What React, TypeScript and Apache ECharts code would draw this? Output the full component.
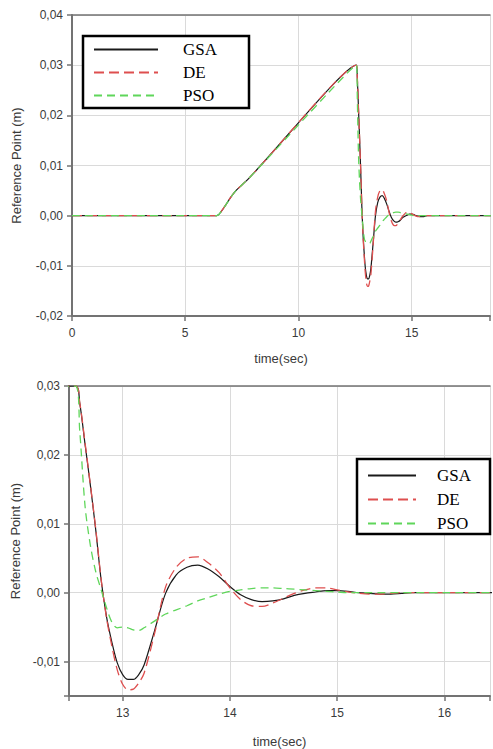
import React, { useEffect, useRef } from 'react';
import * as echarts from 'echarts';

// time (sec)
const time = [
  0, 6.4, 6.6, 6.8, 7.0, 7.2, 7.4, 7.8,
  12.56, 12.6, 12.65, 12.7, 12.75, 12.8, 12.85, 12.9, 12.95, 13.0, 13.05, 13.1, 13.15, 13.2,
  13.3, 13.4, 13.5, 13.6, 13.7, 13.8, 13.9, 14.0,
  14.1, 14.2, 14.3, 14.4, 14.5, 14.6, 14.7, 14.8, 14.9, 15.0, 15.1, 15.2, 15.3, 15.4, 15.5, 15.6, 15.7, 15.8,
  16.0, 16.5, 18.5,
];

const gsa = [
  0, 0, 0.0009, 0.0022, 0.0036, 0.0048, 0.0057, 0.0074,
  0.03, 0.0275, 0.0215, 0.0155, 0.009, 0.0018, -0.0035, -0.0072, -0.0102, -0.0119, -0.0126, -0.0126, -0.0119, -0.0105,
  -0.0054, -0.0001, 0.0026, 0.0037, 0.004, 0.0034, 0.0023, 0.0009,
  -0.0003, -0.001, -0.0013, -0.0012, -0.0009, -0.0004, -0.0001, 0.0001, 0.0003, 0.0003, 0.0002, 0.0, -0.0001, -0.0002, -0.0002, -0.0001, 0.0, 0.0,
  0, 0, 0,
];

const de = [
  0, 0, 0.0009, 0.0022, 0.0036, 0.0048, 0.0057, 0.0074,
  0.03, 0.0276, 0.0217, 0.0156, 0.0092, 0.0019, -0.0037, -0.0078, -0.0112, -0.0133, -0.0141, -0.014, -0.0131, -0.0117,
  -0.0058, 0.0008, 0.0037, 0.005, 0.0052, 0.0043, 0.0029, 0.0007,
  -0.001, -0.0019, -0.002, -0.0015, -0.0008, -0.0001, 0.0004, 0.0007, 0.0007, 0.0004, 0.0001, -0.0001, -0.0002, -0.0002, -0.0001, 0, 0, 0,
  0, 0, 0,
];

const pso = [
  0, 0, 0.0009, 0.0022, 0.0036, 0.0048, 0.0057, 0.0074,
  0.03, 0.0235, 0.0125, 0.0068, 0.003, 0.0004, -0.0022, -0.0043, -0.0051, -0.005, -0.0051, -0.0054, -0.0055, -0.0051,
  -0.0041, -0.0031, -0.0025, -0.0019, -0.0012, -0.0007, -0.0002, 0.0002,
  0.0004, 0.0006, 0.0007, 0.0007, 0.0006, 0.0005, 0.0004, 0.0003, 0.0002, 0.0001, 0, 0, 0, 0, 0, 0, 0, 0,
  0, 0, 0,
];

const seriesNames = ['GSA', 'DE', 'PSO'];
const seriesValues = [gsa, de, pso];
const xTitle = 'time(sec)';
const yTitle = 'Reference Point (m)';

const SANS = '"Liberation Sans", Arial, sans-serif';
const SERIF = '"Liberation Serif", "Times New Roman", serif';
const AXIS = '#737373';
const GRID = '#dadada';
const TEXT = '#3a3a3a';

const fmtY = (v: number) => {
  const r = Math.round(v * 100);
  if (Math.abs(v * 100 - r) > 1e-6) return '';
  if (r === 0) return '0,00';
  return (r / 100).toFixed(2).replace('.', ',');
};
const fmtX = (v: number) => {
  const r = Math.round(v);
  if (Math.abs(v - r) > 1e-6) return '';
  return String(r);
};

const lineStyles = [
  { color: '#1a1a1a', width: 1.2, type: 'solid' as const },
  { color: '#de4f4f', width: 1.3, type: [10, 5] as any },
  { color: '#5fd65a', width: 1.3, type: [8, 5] as any },
];

function mainX(gridIndex: number, min: number, max: number, interval?: number) {
  return {
    type: 'value',
    gridIndex,
    min,
    max,
    ...(interval ? { interval } : { splitNumber: 5 }),
    name: xTitle,
    nameLocation: 'middle',
    nameGap: gridIndex === 0 ? 36 : 39,
    nameTextStyle: { fontFamily: SANS, fontSize: 13, color: TEXT },
    axisLine: { onZero: false, lineStyle: { color: AXIS, width: 2 } },
    axisTick: { length: 5, lineStyle: { color: AXIS, width: 1.5 } },
    axisLabel: { formatter: fmtX, fontFamily: SANS, fontSize: 12, color: TEXT, margin: 11 },
    splitLine: { show: true, lineStyle: { color: GRID, width: 1 } },
  };
}
function topX(gridIndex: number, min: number, max: number) {
  return {
    type: 'value',
    gridIndex,
    position: 'top',
    min,
    max,
    axisLine: { show: true, onZero: false, lineStyle: { color: AXIS, width: 1.5 } },
    axisTick: { show: false },
    axisLabel: { show: false },
    splitLine: { show: false },
  };
}
function mainY(gridIndex: number, min: number, max: number, interval?: number) {
  return {
    type: 'value',
    gridIndex,
    min,
    max,
    ...(interval ? { interval } : { splitNumber: 5 }),
    name: yTitle,
    nameLocation: 'middle',
    nameGap: gridIndex === 0 ? 49 : 47,
    nameTextStyle: { fontFamily: SANS, fontSize: 13, color: TEXT },
    axisLine: { show: true, onZero: false, lineStyle: { color: AXIS, width: 2 } },
    axisTick: { show: true, length: 5, lineStyle: { color: AXIS, width: 1.5 } },
    axisLabel: { formatter: fmtY, fontFamily: SANS, fontSize: 12, color: TEXT, margin: 9 },
    splitLine: { show: true, lineStyle: { color: GRID, width: 1 } },
  };
}

export default function App() {
  const ref = useRef<HTMLDivElement>(null);
  useEffect(() => {
    if (!ref.current) return;
    const chart = echarts.init(ref.current, undefined, { renderer: 'svg' });
    const series: any[] = [];
    [0, 1].forEach((g) => {
      seriesNames.forEach((name, i) => {
        series.push({
          name,
          type: 'line',
          xAxisIndex: g * 2,
          yAxisIndex: g,
          symbol: 'none',
          smooth: 0.3,
          lineStyle: lineStyles[i],
          itemStyle: { color: lineStyles[i].color },
          data: time.map((t, k) => [t, seriesValues[i][k]]),
          z: 2 + i,
        });
      });
    });
    chart.setOption({
      animation: false,
      backgroundColor: '#fff',
      grid: [
        { left: 72, top: 15, width: 421, height: 301 },
        { left: 69, top: 386, width: 424, height: 311 },
      ],
      xAxis: [mainX(0, 0, 18.46, 5), topX(0, 0, 18.46), mainX(1, 12.5, 16.425), topX(1, 12.5, 16.425)],
      yAxis: [mainY(0, -0.02, 0.04, 0.01), mainY(1, -0.015, 0.03)],
      legend: [
        {
          data: seriesNames,
          left: 83,
          top: 36,
          orient: 'vertical',
          itemWidth: 64,
          itemHeight: 14,
          itemGap: 6,
          padding: [5, 16, 4, 10],
          borderColor: '#000',
          borderWidth: 2.5,
          backgroundColor: '#fff',
          selectedMode: false,
          itemStyle: { opacity: 0 },
          textStyle: { fontFamily: SERIF, fontSize: 17, color: '#000', padding: [0, 0, 0, 20], width: 50, lineHeight: 14 },
        },
        {
          data: seriesNames,
          left: 357,
          top: 459,
          orient: 'vertical',
          itemWidth: 48,
          itemHeight: 14,
          itemGap: 7,
          padding: [8, 8, 2, 10],
          borderColor: '#000',
          borderWidth: 2.5,
          backgroundColor: '#fff',
          selectedMode: false,
          itemStyle: { opacity: 0 },
          textStyle: { fontFamily: SERIF, fontSize: 17, color: '#000', padding: [0, 0, 0, 16], width: 45, lineHeight: 14 },
        },
      ],
      series,
    });
    return () => chart.dispose();
  }, []);
  return (
    <div
      ref={ref}
      style={{ position: 'absolute', left: 0, top: 0, width: 493, height: 749, background: '#fff' }}
    />
  );
}
